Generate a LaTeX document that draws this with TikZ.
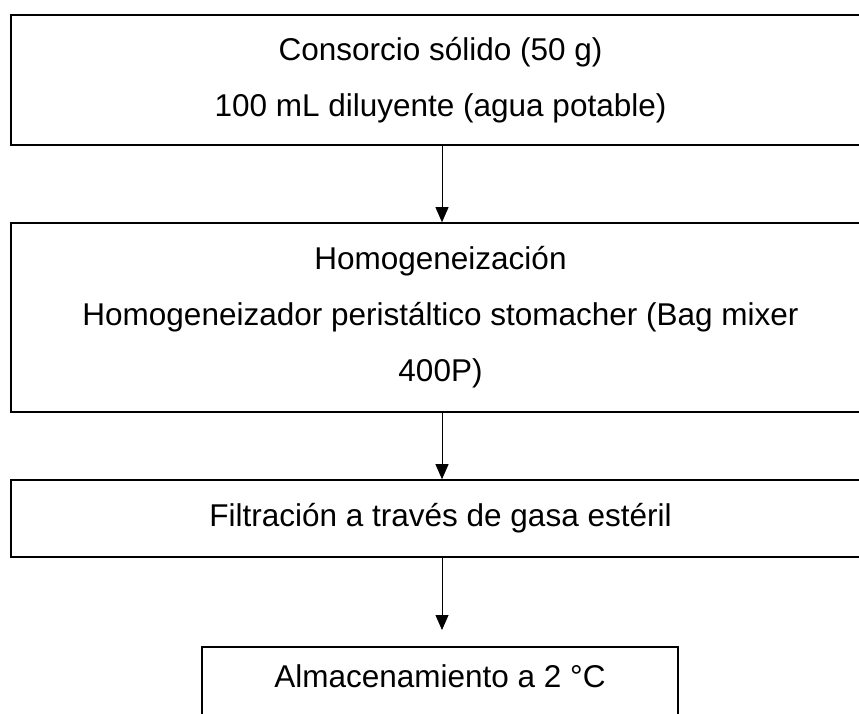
\documentclass[tikz,border=0pt]{standalone}
\usepackage{fontspec}
\setmainfont{Liberation Sans}
\usetikzlibrary{arrows.meta}

\begin{document}
\begin{tikzpicture}[
    x = 1pt, y = -1pt,
    every node/.style={ draw, rectangle, line width = 1.6pt,
      align = center, inner sep = 0pt,
      font = \fontsize{31.5}{56}\selectfont },
    flow/.style={ line width = 0.8pt,
      -{Triangle[width=13pt,length=15pt]} }
    ]
  \useasboundingbox (0,0) rectangle (859,713);
  \coordinate (axis) at (442,0);
  \node (consorcio) [minimum width = 859pt, minimum height = 130pt]
    at (440.5,80) {Consorcio sólido (50 g)\\100 mL diluyente (agua potable)};
  \node (homog) [minimum width = 859pt, minimum height = 189pt]
    at (440.5,317.5) {Homogeneización\\Homogeneizador peristáltico stomacher (Bag mixer\\400P)};
  \node (filtrado) [minimum width = 859pt, minimum height = 77pt]
    at (440.5,518.5) {Filtración a través de gasa estéril};
  \node (almacen) [minimum width = 476pt, inner ysep = 18.5pt,
    text height = 22.5pt, text depth = 80pt, anchor = north]
    at (440,646) {Almacenamiento a 2 °C};
\draw[flow] (consorcio.south -| axis) -- (homog.north -| axis) ;
\draw[flow] (homog.south -| axis) -- (filtrado.north -| axis) ;
\draw[flow, shorten >= 16pt] (filtrado.south -| axis) -- (almacen.north -| axis) ;
  \end{tikzpicture}
\end{document}
